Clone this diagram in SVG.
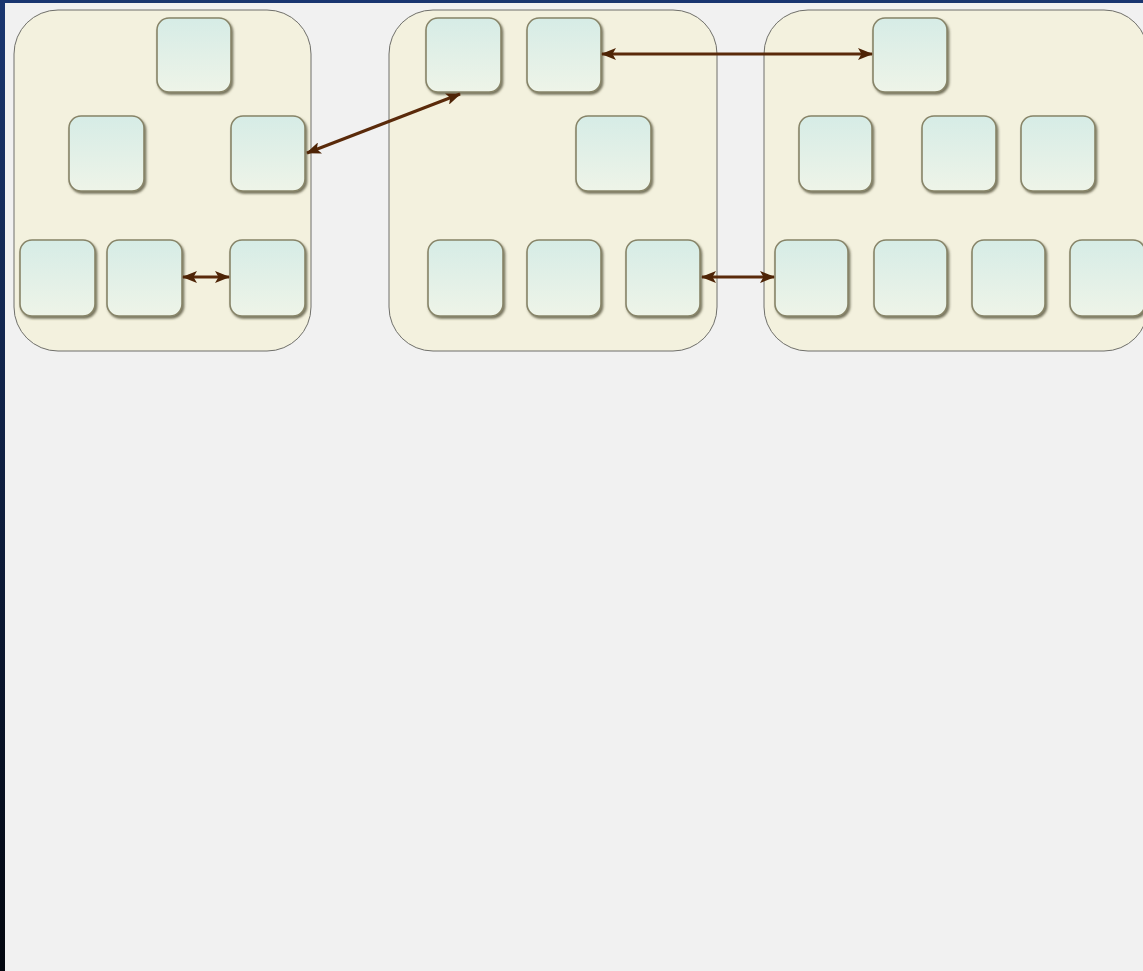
<svg xmlns="http://www.w3.org/2000/svg" width="1143" height="971" viewBox="0 0 1143 971">
<defs>
<linearGradient id="frame" x1="0" y1="0" x2="0" y2="1">
<stop offset="0" stop-color="#1a3670"/>
<stop offset="1" stop-color="#03070f"/>
</linearGradient>
<linearGradient id="nodeFill" x1="0" y1="0" x2="0" y2="1">
<stop offset="0" stop-color="#d6ece6"/>
<stop offset="1" stop-color="#eef4e8"/>
</linearGradient>
<filter id="sh" x="-20%" y="-20%" width="140%" height="140%">
<feDropShadow dx="1.5" dy="2" stdDeviation="1" flood-color="#4e4a30" flood-opacity="0.75"/>
</filter>
<marker id="ah" viewBox="0 0 15 12" refX="14" refY="6" markerWidth="5" markerHeight="4" orient="auto-start-reverse" markerUnits="strokeWidth">
<path d="M0,0 L15,6 L0,12 L3.5,6 z" fill="#4e2406"/>
</marker>
</defs>
<style>
.cont{fill:#f3f1de;stroke:#6f6f6a;stroke-width:1}
.node{fill:url(#nodeFill);stroke:#878468;stroke-width:1.6;filter:url(#sh)}
.conn{stroke:#5a2a0a;stroke-width:3;fill:none;marker-start:url(#ah);marker-end:url(#ah)}
</style>
<rect x="0" y="0" width="1143" height="971" fill="url(#frame)"/>
<rect x="5" y="3" width="1138" height="968" fill="#f1f1f1"/>
<g id="container1">
<rect class="cont" x="14" y="10" width="297" height="341" rx="44"/>
</g>
<g id="container2">
<rect class="cont" x="389" y="10" width="328" height="341" rx="44"/>
</g>
<g id="container3">
<rect class="cont" x="764" y="10" width="384" height="341" rx="44"/>
</g>
<g id="n1"><rect class="node" x="157" y="18" width="74" height="74" rx="12"/></g>
<g id="n2"><rect class="node" x="69" y="116" width="75" height="75" rx="12"/></g>
<g id="n3"><rect class="node" x="231" y="116" width="74" height="75" rx="12"/></g>
<g id="n4"><rect class="node" x="20" y="240" width="75" height="76" rx="12"/></g>
<g id="n5"><rect class="node" x="107" y="240" width="75" height="76" rx="12"/></g>
<g id="n6"><rect class="node" x="230" y="240" width="75" height="76" rx="12"/></g>
<g id="n7"><rect class="node" x="426" y="18" width="75" height="74" rx="12"/></g>
<g id="n8"><rect class="node" x="527" y="18" width="74" height="74" rx="12"/></g>
<g id="n9"><rect class="node" x="576" y="116" width="75" height="75" rx="12"/></g>
<g id="n10"><rect class="node" x="428" y="240" width="75" height="76" rx="12"/></g>
<g id="n11"><rect class="node" x="527" y="240" width="74" height="76" rx="12"/></g>
<g id="n12"><rect class="node" x="626" y="240" width="74" height="76" rx="12"/></g>
<g id="n13"><rect class="node" x="873" y="18" width="74" height="74" rx="12"/></g>
<g id="n14"><rect class="node" x="799" y="116" width="73" height="75" rx="12"/></g>
<g id="n15"><rect class="node" x="922" y="116" width="74" height="75" rx="12"/></g>
<g id="n16"><rect class="node" x="1021" y="116" width="74" height="75" rx="12"/></g>
<g id="n17"><rect class="node" x="775" y="240" width="73" height="76" rx="12"/></g>
<g id="n18"><rect class="node" x="874" y="240" width="73" height="76" rx="12"/></g>
<g id="n19"><rect class="node" x="972" y="240" width="73" height="76" rx="12"/></g>
<g id="n20"><rect class="node" x="1070" y="240" width="75" height="76" rx="12"/></g>
<g id="connectors">
<line class="conn" x1="307" y1="153" x2="460" y2="94"/>
<line class="conn" x1="602" y1="54" x2="872" y2="54"/>
<line class="conn" x1="183" y1="277" x2="229" y2="277"/>
<line class="conn" x1="702" y1="277" x2="774" y2="277"/>
</g>
</svg>
